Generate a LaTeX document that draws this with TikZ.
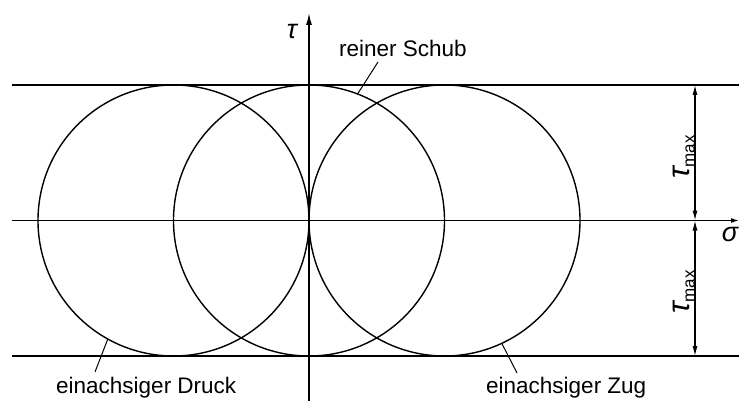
\documentclass[tikz,border=0pt]{standalone}
\usepackage{fontspec}
\setmainfont{Liberation Sans}
\usetikzlibrary{arrows.meta,positioning}
\tikzset{
  %% Mohr circles
  mohr/.style={draw, circle, line width=1.4pt, minimum size=271pt,
    inner sep=0pt, outer sep=0pt},
  %% axes and limit lines
  axisline/.style={line width=1.4pt},
  leader/.style={line width=1pt},
  dimarrow/.style={{Latex[length=10pt,width=5pt]}-{Latex[length=10pt,width=5pt]},
    line width=1.1pt},
  %% texts
  lbl/.style={font=\fontsize{22.5}{26}\selectfont, inner sep=0pt},
  greek/.style={font=\fontsize{27}{30}\selectfont\itshape, inner sep=0pt},
}
\newcommand{\taumax}{{\fontsize{31}{32}\selectfont\itshape τ}\raisebox{-5pt}{\fontsize{17}{18}\selectfont max}}

\begin{document}
\begin{tikzpicture}[x=1pt, y=-1pt]
\useasboundingbox (0,0) rectangle (739,401);

%% Limit lines and axes
\coordinate (topL) at (12,85);   \coordinate (topR) at (739,85);
\coordinate (botL) at (12,356);  \coordinate (botR) at (739,356);
\coordinate (sigL) at (12,220.5); \coordinate (sigR) at (739,220.5);
\coordinate (tauB) at (309,401); \coordinate (tauT) at (309,13);
\draw[axisline] (topL) -- (topR);
\draw[axisline] (botL) -- (botR);
\draw[axisline, -{Latex[length=8pt,width=5pt]}] (sigL) -- (sigR);
\draw[axisline, -{Latex[length=12pt,width=6pt]}] (tauB) -- (tauT);

%% Circles
\node[mohr] (cDruck) at (173.5,220.5) {};
\node[mohr] (cSchub) at (309,220.5) {};
\node[mohr] (cZug)   at (444.5,220.5) {};

%% Axis labels
\node[greek] (tauLbl) at (292,32) {τ};
\node[greek] (sigLbl) at (730,234) {σ};

%% tau_max dimensions
\coordinate (dTop) at (695,85);
\coordinate (dMid) at (695,220.5);
\coordinate (dBot) at (695,356);
\draw[dimarrow] (dTop) -- (dMid);
\draw[dimarrow] (dMid) -- (dBot);
\node[lbl, rotate=90] (tmaxUp) at (684,157) {\taumax};
\node[lbl, rotate=90] (tmaxDn) at (684,292) {\taumax};

%% Leaders
\node[lbl, anchor=base west] (lSchub) at (339,57) {reiner Schub};
\node[lbl, anchor=base west] (lDruck) at (56,393) {einachsiger Druck};
\node[lbl, anchor=base west] (lZug)   at (486,393) {einachsiger Zug};
\coordinate (pSchub) at (378,62);
\coordinate (pDruck) at (95,372);
\coordinate (pZug)   at (517,373);
\draw[leader] (cSchub.69.5) -- (pSchub);
\draw[leader] (cDruck.241.3) -- (pDruck);
\draw[leader] (cZug.295.1) -- (pZug);

\end{tikzpicture}
\end{document}
